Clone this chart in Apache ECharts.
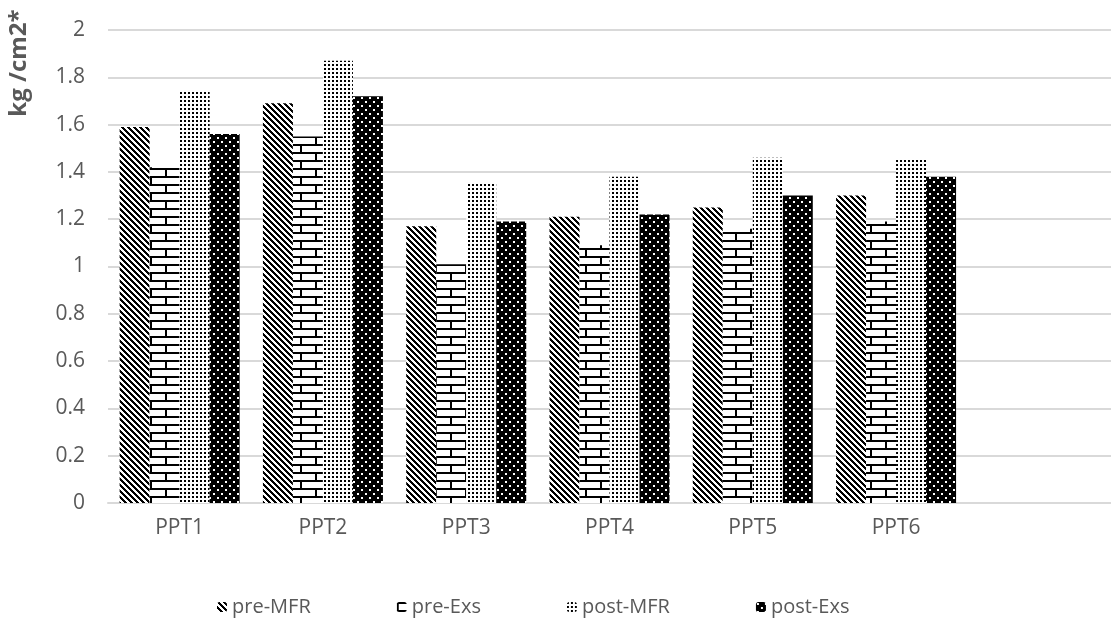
<!DOCTYPE html>
<html>
<head>
<meta charset="utf-8">
<script src="https://cdn.jsdelivr.net/npm/echarts@6/dist/echarts.min.js"></script>
<style>
html,body{margin:0;padding:0;background:#fff;}
#chart{width:1111px;height:624px;}
</style>
</head>
<body>
<div id="chart"></div>
<script>
// ---- data ----
var categories = ['PPT1', 'PPT2', 'PPT3', 'PPT4', 'PPT5', 'PPT6', ''];
var seriesNames = ['pre-MFR', 'pre-Exs', 'post-MFR', 'post-Exs'];
var preMFR  = [1.59, 1.69, 1.17, 1.21, 1.25, 1.30];
var preExs  = [1.42, 1.55, 1.01, 1.09, 1.16, 1.19];
var postMFR = [1.74, 1.87, 1.35, 1.38, 1.46, 1.45];
var postExs = [1.56, 1.72, 1.19, 1.22, 1.30, 1.38];
var yAxisTitle = 'kg /cm2*';

// ---- patterns ----
function mk(w, h, draw) {
  var c = document.createElement('canvas');
  c.width = w; c.height = h;
  var g = c.getContext('2d');
  draw(g, w, h);
  return { image: c, repeat: 'repeat' };
}
var pDiag = mk(6, 6, function (g, w, h) {
  g.fillStyle = '#fff'; g.fillRect(0, 0, w, h);
  g.fillStyle = '#000';
  for (var y = 0; y < h; y++) for (var x = 0; x < w; x++) {
    if (((x - y) % 6 + 6) % 6 < 3) g.fillRect(x, y, 1, 1);
  }
});
var pBrick = mk(30, 16, function (g, w, h) {
  g.fillStyle = '#fff'; g.fillRect(0, 0, w, h);
  g.fillStyle = '#000';
  g.fillRect(0, 0, w, 2);
  g.fillRect(0, 8, w, 2);
  g.fillRect(0, 2, 2, 6);
  g.fillRect(15, 10, 2, 6);
});
var pDots = mk(4, 4, function (g, w, h) {
  g.fillStyle = '#fff'; g.fillRect(0, 0, w, h);
  g.fillStyle = '#000';
  g.fillRect(0, 0, 2, 2);
});
var pDark = mk(8, 8, function (g, w, h) {
  g.fillStyle = '#000'; g.fillRect(0, 0, w, h);
  g.fillStyle = '#fff';
  g.fillRect(1, 1, 2, 2);
  g.fillRect(5, 5, 2, 2);
});
var patterns = [pDiag, pBrick, pDots, pDark];
var values = [preMFR, preExs, postMFR, postExs];

var txt = '#595959';
var font = 'Open Sans';

var series = seriesNames.map(function (n, i) {
  return {
    name: n,
    type: 'bar',
    data: values[i],
    barWidth: 30,
    barGap: '0%',
    itemStyle: { color: patterns[i] }
  };
});

var chart = echarts.init(document.getElementById('chart'), null, { renderer: 'canvas' });
chart.setOption({
  animation: false,
  backgroundColor: '#fff',
  grid: { left: 108, right: -8, top: 30, bottom: 121, containLabel: false },
  xAxis: {
    type: 'category',
    data: categories,
    axisLine: { show: true, lineStyle: { color: '#d9d9d9', width: 2 } },
    axisTick: { show: false },
    axisLabel: { color: txt, fontSize: 21, fontFamily: font, margin: 15, interval: 0 }
  },
  yAxis: {
    type: 'value',
    min: 0, max: 2, interval: 0.2,
    axisLine: { show: false },
    axisTick: { show: false },
    splitLine: { lineStyle: { color: '#d9d9d9', width: 2 } },
    axisLabel: { color: txt, fontSize: 21, fontFamily: font, margin: 23 }
  },
  legend: {
    data: seriesNames,
    left: 212,
    top: 592,
    itemWidth: 10,
    itemHeight: 10,
    itemGap: 86,
    textStyle: { color: txt, fontSize: 20, fontFamily: font }
  },
  graphic: [{
    type: 'text',
    x: 19,
    y: 63,
    rotation: Math.PI / 2,
    style: {
      text: yAxisTitle,
      fill: txt,
      font: 'bold 24px "Open Sans"',
      textAlign: 'center',
      textVerticalAlign: 'middle'
    }
  }],
  series: series
});
</script>
</body>
</html>
